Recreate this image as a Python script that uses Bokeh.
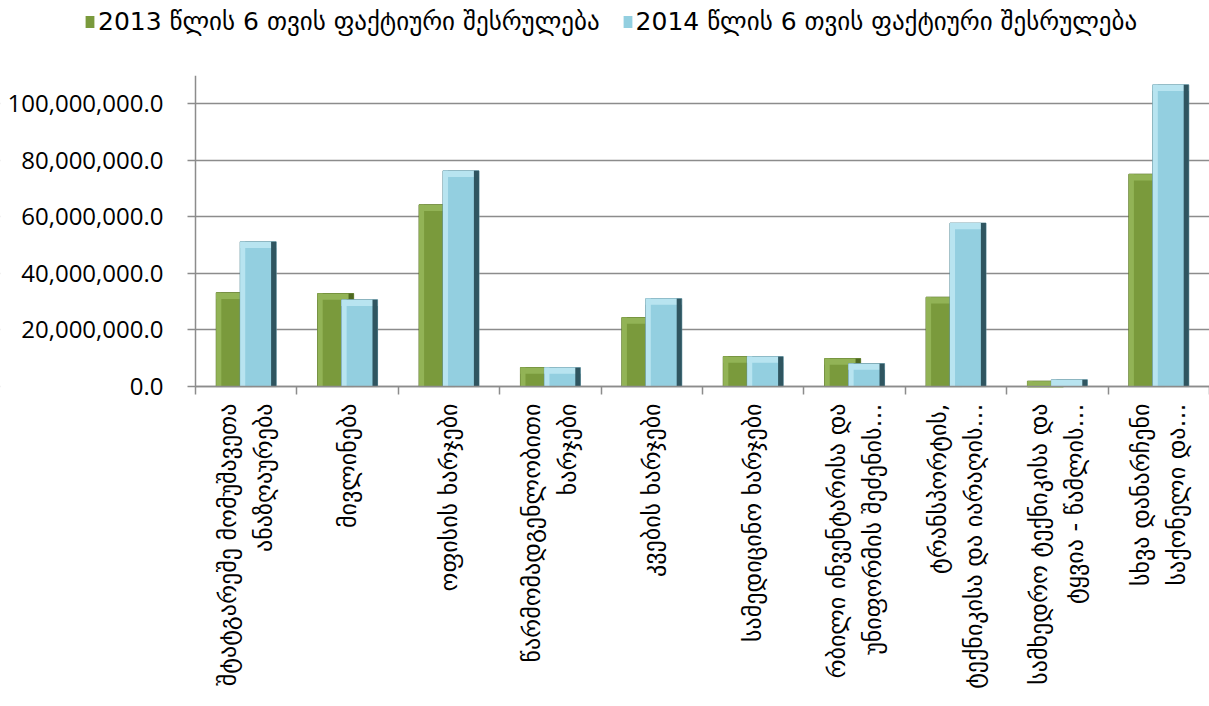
from bokeh.plotting import figure
from bokeh.models import (Range1d, FixedTicker, NumeralTickFormatter, Legend, LegendItem,
                          ColumnDataSource, BoxAnnotation)
from bokeh.layouts import column
from bokeh.transform import dodge
from bokeh.core.properties import value
from bokeh.embed import file_html
from bokeh.resources import INLINE

categories = [
    "შტატგარეშე მომუშავეთა\nანაზღაურება",
    "მივლინება",
    "ოფისის ხარჯები",
    "წარმომადგენლობითი\nხარჯები",
    "კვების ხარჯები",
    "სამედიცინო ხარჯები",
    "რბილი ინვენტარისა და\nუნიფორმის შეძენის…",
    "ტრანსპორტის,\nტექნიკისა და იარაღის…",
    "სამხედრო ტექნიკისა და\nტყვია - წამლის…",
    "სხვა დანარჩენი\nსაქონელი და…",
]
values_2013 = [33.2e6, 32.9e6, 64.3e6, 6.7e6, 24.4e6, 10.6e6, 9.9e6, 31.6e6, 1.9e6, 75.1e6]
values_2014 = [51.2e6, 30.7e6, 76.3e6, 6.7e6, 31.1e6, 10.6e6, 8.1e6, 57.8e6, 2.4e6, 106.7e6]
series_names = ["2013 წლის 6 თვის ფაქტიური შესრულება", "2014 წლის 6 თვის ფაქტიური შესრულება"]
y_ticks = [0, 20e6, 40e6, 60e6, 80e6, 100e6]

GREEN, GREEN_L, GREEN_D = "#7a9a3c", "#92b356", "#4e6821"
BLUE, BLUE_L, BLUE_D = "#93cfe0", "#b8e4f0", "#2f5560"
GRID = "#8c8c8c"

n = len(categories)
centers = [i + 0.5 for i in range(n)]
bw = 0.355
off = 0.118
edge = 0.05
W = 1209
LEFT = 195      # pixels left of the first category (room for y tick labels)
Y_MAX = 110e6
Y_PAD = 6e6     # room below zero for the x ticks and the "0.0" label
FRAME_H = round(311 * (Y_MAX + Y_PAD) / Y_MAX)

x_range = Range1d(-n * LEFT / (W - LEFT), n)

src = ColumnDataSource(dict(
    xg=[c - off for c in centers], xb=[c + off for c in centers],
    v13=values_2013, v14=values_2014,
))

# ---------- legend strip (zero-width series glyphs only feed the legend swatches) ----------
pl = figure(width=W, height=75, output_backend="svg", toolbar_location=None,
            x_range=x_range, y_range=Range1d(-3e8, -2e8), min_border=0)
pl.axis.visible = False
pl.grid.visible = False
pl.outline_line_color = None
lg = pl.vbar(x="xg", top="v13", width=0, source=src, fill_color=GREEN, line_color=None)
lb = pl.vbar(x="xb", top="v14", width=0, source=src, fill_color=BLUE, line_color=None)
pl.add_layout(BoxAnnotation(fill_color="white", fill_alpha=1, line_color=None))
legend = Legend(items=[LegendItem(label=series_names[0], renderers=[lg]),
                       LegendItem(label=series_names[1], renderers=[lb])],
                orientation="horizontal", location=(84, 39),
                label_text_font="DejaVu Sans", label_text_font_size="25px",
                label_text_color="#000000",
                glyph_width=11, glyph_height=15, label_standoff=3, spacing=22,
                border_line_color=None, background_fill_alpha=0,
                margin=0, padding=4)
pl.add_layout(legend, "center")

# ---------- main chart ----------
p = figure(width=W, output_backend="svg", toolbar_location=None,
           x_range=x_range, y_range=Range1d(-Y_PAD, Y_MAX),
           frame_width=W, frame_height=FRAME_H,
           min_border_left=0, min_border_right=0, min_border_top=0, min_border_bottom=0)
p.outline_line_color = None

p.xgrid.grid_line_color = None
p.ygrid.ticker = FixedTicker(ticks=y_ticks)
p.ygrid.grid_line_color = GRID
p.ygrid.grid_line_width = 1.5
# keep the grid lines to the right of the value axis
p.add_layout(BoxAnnotation(left=x_range.start - 1, right=0, fill_color="white", fill_alpha=1,
                           line_color=None, level="underlay"))

rg = p.vbar(x="xg", top="v13", width=bw, source=src, fill_color=GREEN, line_color="#5a7328", line_width=1)
p.vbar(x="xg", top="v13", bottom=dodge("v13", -2.2e6), width=bw, source=src, fill_color=GREEN_L, line_color=None)
p.vbar(x=dodge("xg", -bw / 2 + edge / 2), top="v13", width=edge, source=src, fill_color=GREEN_L, line_color=None)
p.vbar(x=dodge("xg", bw / 2 - edge / 2), top="v13", width=edge, source=src, fill_color=GREEN_D, line_color=None)
rb = p.vbar(x="xb", top="v14", width=bw, source=src, fill_color=BLUE, line_color="#5f8f9c", line_width=1)
p.vbar(x="xb", top="v14", bottom=dodge("v14", -2.2e6), width=bw, source=src, fill_color=BLUE_L, line_color=None)
p.vbar(x=dodge("xb", -bw / 2 + edge / 2), top="v14", width=edge, source=src, fill_color=BLUE_L, line_color=None)
p.vbar(x=dodge("xb", bw / 2 - edge / 2), top="v14", width=edge, source=src, fill_color=BLUE_D, line_color=None)

p.xaxis.fixed_location = 0
p.xaxis.ticker = FixedTicker(ticks=centers, minor_ticks=list(range(n + 1)))
p.xaxis.major_label_overrides = {c: "" for c in centers}
p.xaxis.major_label_text_font_size = "1px"
p.xaxis.major_label_standoff = 0
p.xaxis.bounds = (0, n)
p.xaxis.major_tick_out = 0
p.xaxis.major_tick_in = 0
p.xaxis.minor_tick_out = 8
p.xaxis.minor_tick_in = 0
p.xaxis.minor_tick_line_color = GRID
p.xaxis.minor_tick_line_width = 1.5
p.xaxis.axis_line_color = GRID
p.xaxis.axis_line_width = 1.5

p.yaxis.fixed_location = 0
p.yaxis.bounds = (0, Y_MAX)
p.yaxis.ticker = FixedTicker(ticks=y_ticks)
p.yaxis.formatter = NumeralTickFormatter(format="0,0.0")
p.yaxis.major_tick_out = 8
p.yaxis.major_tick_in = 0
p.yaxis.minor_tick_line_color = None
p.yaxis.major_tick_line_color = GRID
p.yaxis.major_tick_line_width = 1.5
p.yaxis.axis_line_color = GRID
p.yaxis.axis_line_width = 1.5
p.yaxis.major_label_standoff = 24
p.yaxis.major_label_text_font = "Open Sans"
p.yaxis.major_label_text_font_size = "24px"
p.yaxis.major_label_text_color = "#000000"

# ---------- category label strip ----------
pc = figure(width=W, height=706 - 75 - FRAME_H, output_backend="svg", toolbar_location=None,
            x_range=x_range, y_range=Range1d(0, 1),
            min_border_left=0, min_border_right=0, min_border_top=0, min_border_bottom=0)
pc.axis.visible = False
pc.grid.visible = False
pc.outline_line_color = None
lab_src = ColumnDataSource(dict(x=centers, y=[1] * n, text=categories))
pc.text(x="x", y="y", text="text", source=lab_src, angle=1.5708,
        text_align="right", text_baseline="middle",
        text_font=value("DejaVu Sans"), text_font_size="24px",
        text_color="#000000", text_line_height=1.28)

layout = column(pl, p, pc, spacing=0)
open("out.html", "w").write(file_html(layout, INLINE))
